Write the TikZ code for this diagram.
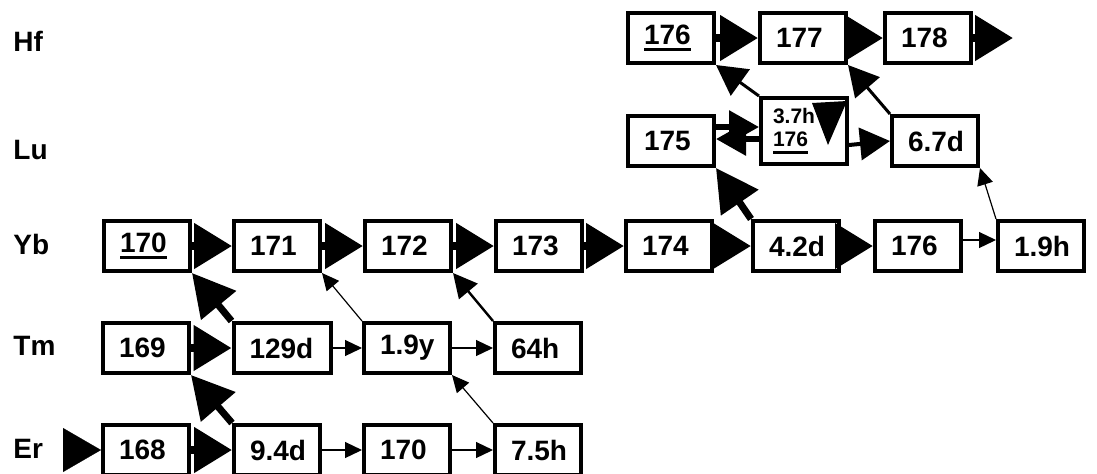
\documentclass[tikz,border=0pt]{standalone}
\usepackage{fontspec}
\setmainfont{Liberation Sans}
\usetikzlibrary{arrows.meta, positioning, calc}

% underlined mass number of a stable isotope
\newcommand{\natiso}[1]{\setbox0\hbox{#1}\leavevmode\rlap{\rule[-3.5pt]{\wd0}{1.5pt}}\box0}

\begin{document}
\begin{tikzpicture}[x=0.5pt, y=-0.5pt,
    iso/.style={draw, line width=2pt, minimum height=25pt, inner xsep=8pt, inner ysep=2pt,
                text width=27pt, align=left, font=\fontsize{14}{16}\selectfont\bfseries},
    elem/.style={anchor=west, inner sep=0pt, font=\fontsize{14}{16}\selectfont\bfseries},
    capture/.style={line width=4pt, -{Triangle[length=19pt, width=22pt]}},
    heavy/.style={line width=3.5pt, -{Triangle[length=21pt, width=22pt]}},
    medium/.style={line width=1.5pt, -{Triangle[length=15pt, width=16pt]}},
    thin/.style={line width=0.6pt, -{Triangle[length=8.5pt, width=8pt]}}]
    \useasboundingbox (0,0) rectangle (1097,473);

    % Element labels
    \node[elem] (lHf) at (13,41)  {Hf};
    \node[elem] (lLu) at (13,150) {Lu};
    \node[elem] (lYb) at (13,244) {Yb};
    \node[elem] (lTm) at (13,346) {Tm};
    \node[elem] (lEr) at (13,449) {Er};

    % Hf row
    \node[iso] (H176) at (671,38) {\natiso{176}};
    \node[iso] (H177) at (803,38) {177};
    \node[iso] (H178) at (928,38) {178};
    \coordinate (Hend) at (1013,38);

    % Lu row
    \node[iso] (L175) at (671,141) {175};
    \node[iso, minimum height=33pt, inner xsep=6pt, text width=31pt,
          font=\fontsize{10.5}{11.5}\selectfont\bfseries] (L176m) at (804,131) {3.7h\\\natiso{176}};
    \node[iso] (L67d) at (935,141) {6.7d};

    % Yb row
    \node[iso] (Y170) at (147,246)  {\natiso{170}};
    \node[iso] (Y171) at (277,246)  {171};
    \node[iso] (Y172) at (408,246)  {172};
    \node[iso] (Y173) at (539,246)  {173};
    \node[iso] (Y174) at (669,246)  {174};
    \node[iso] (Y42d) at (796,246)  {4.2d};
    \node[iso] (Y176) at (918,246)  {176};
    \node[iso] (Y19h) at (1041,246) {1.9h};

    % Tm row
    \node[iso] (T169) at (146,348) {169};
    \node[iso, text width=32.5pt] (T129d) at (282,348) {129d};
    \node[iso] (T19y) at (407,348) {1.9y};
    \node[iso] (T64h) at (538,348) {64h};

    % Er row
    \coordinate (Ein) at (64,450);
    \node[iso] (E168) at (146,450) {168};
    \node[iso] (E94d) at (277,450) {9.4d};
    \node[iso] (E170) at (407,450) {170};
    \node[iso] (E75h) at (538,450) {7.5h};

    % Neutron capture
    \draw[capture] (H176.east) -- (H177.west);
    \draw[capture] (H177.east) -- (H178.west);
    \draw[capture] (H178.east) -- (Hend);
    \draw[medium, line width=3pt] ($(L175.east)+(0,-14)$) -- ($(L176m.west)+(0,-4)$);
    \draw[medium, line width=3pt] ($(L176m.west)+(0,8)$) -- ($(L175.east)+(0,-2)$);
    \draw[medium, line width=2pt] ($(L176m.east)+(0,14)$) -- (L67d.west);
    \draw[capture] (Y170.east) -- (Y171.west);
    \draw[capture] (Y171.east) -- (Y172.west);
    \draw[capture] (Y172.east) -- (Y173.west);
    \draw[capture] (Y173.east) -- (Y174.west);
    \draw[capture] (Y174.east) -- (Y42d.west);
    \draw[capture] (Y42d.east) -- (Y176.west);
    \draw[thin] ($(Y176.east)+(0,-6)$) -- ($(Y19h.west)+(0,-6)$);
    \draw[capture] (T169.east) -- (T129d.west);
    \draw[thin] (T129d.east) -- (T19y.west);
    \draw[thin] (T19y.east) -- (T64h.west);
    \draw[capture, line width=0.1pt] (Ein) -- (E168.west);
    \draw[capture] (E168.east) -- (E94d.west);
    \draw[thin] (E94d.east) -- (E170.west);
    \draw[thin] (E170.east) -- (E75h.west);

    % Beta decay
    \draw[medium] (L176m.north west) -- (H176.south east);
    \draw[medium] (L67d.north west) -- (H177.south east);
    \draw[heavy] (Y42d.north west) -- (L175.south east);
    \draw[thin] (Y19h.north west) -- (L67d.south east);
    \draw[heavy] (T129d.north west) -- (Y170.south east);
    \draw[thin] (T19y.north west) -- (Y171.south east);
    \draw[medium, line width=1.2pt, -{Triangle[length=12pt, width=12pt]}] (T64h.north west) -- (Y172.south east);
    \draw[heavy] (E94d.north west) -- (T169.south east);
    \draw[thin] (E75h.north west) -- (T19y.south east);

    % Isomeric transition
    \fill ($(L176m.north east)+(-37,7)$) -- ($(L176m.north east)+(-2,5)$)
          -- ($(L176m.north east)+(-21,49)$) -- cycle;
\end{tikzpicture}
\end{document}
